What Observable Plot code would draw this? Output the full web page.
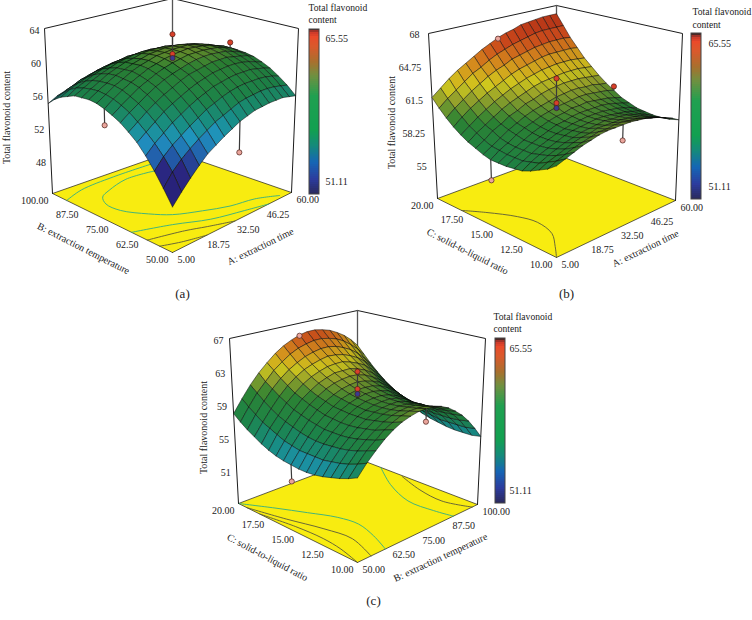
<!DOCTYPE html>
<html><head><meta charset="utf-8">
<style>html,body{margin:0;padding:0;background:#fff}svg{display:block}</style>
<script src="https://cdn.jsdelivr.net/npm/d3@7"></script>
<script src="https://cdn.jsdelivr.net/npm/@observablehq/plot@0.6"></script>
</head><body><div id="chart"></div>
<script>
// Surface heights: rows run along the right floor edge, columns along the left floor edge.
const surfaceA = [
[49.0,50.6,52.1,53.4,54.5,55.3,56.0,56.5,56.9,57.2,57.3,57.2,57.1,56.7,56.3,55.7,54.9],
[50.2,52.0,53.3,54.4,55.3,56.1,56.8,57.3,57.7,57.9,58.0,57.9,57.7,57.4,56.9,56.2,55.5],
[51.3,53.0,54.2,55.2,56.1,56.9,57.5,58.0,58.4,58.6,58.6,58.5,58.3,57.9,57.4,56.7,55.9],
[52.3,53.8,54.9,56.0,56.9,57.6,58.2,58.7,59.0,59.1,59.2,59.1,58.8,58.4,57.8,57.2,56.3],
[53.2,54.5,55.6,56.6,57.5,58.2,58.8,59.2,59.5,59.7,59.6,59.5,59.2,58.8,58.2,57.5,56.6],
[53.8,55.1,56.2,57.2,58.0,58.7,59.3,59.7,60.0,60.1,60.0,59.9,59.6,59.1,58.5,57.8,56.9],
[54.4,55.7,56.8,57.7,58.5,59.2,59.7,60.1,60.3,60.4,60.3,60.1,59.8,59.3,58.7,57.9,57.0],
[54.9,56.1,57.2,58.1,58.9,59.6,60.0,60.4,60.6,60.7,60.6,60.4,60.0,59.5,58.8,58.0,57.1],
[55.4,56.5,57.6,58.5,59.2,59.8,60.3,60.6,60.8,60.8,60.7,60.5,60.1,59.5,58.9,58.0,57.1],
[55.7,56.9,57.9,58.7,59.5,60.0,60.5,60.8,60.9,60.9,60.8,60.5,60.1,59.5,58.8,58.0,57.0],
[56.0,57.1,58.1,58.9,59.6,60.2,60.6,60.8,61.0,60.9,60.8,60.5,60.0,59.4,58.7,57.8,56.8],
[56.1,57.2,58.2,59.0,59.7,60.2,60.6,60.8,60.9,60.9,60.7,60.3,59.9,59.2,58.5,57.6,56.5],
[56.2,57.3,58.2,59.0,59.7,60.2,60.5,60.7,60.8,60.7,60.5,60.1,59.6,59.0,58.2,57.3,56.2],
[56.2,57.3,58.2,59.0,59.6,60.0,60.4,60.6,60.6,60.5,60.3,59.9,59.3,58.7,57.8,56.9,55.8],
[56.2,57.2,58.1,58.8,59.4,59.8,60.1,60.3,60.3,60.2,59.9,59.5,58.9,58.2,57.4,56.4,55.3],
[56.0,57.0,57.9,58.6,59.1,59.6,59.8,60.0,60.0,59.8,59.5,59.0,58.5,57.7,56.9,55.8,54.7],
[55.8,56.8,57.6,58.3,58.8,59.2,59.4,59.5,59.5,59.3,59.0,58.5,57.9,57.1,56.2,55.2,54.0]];
const surfaceB = [
[59.8,59.2,58.8,58.4,58.1,58.0,57.9,57.9,57.9,58.1,58.4,58.7,59.1,59.6,60.2,60.9,61.7],
[60.1,59.6,59.2,58.8,58.6,58.4,58.4,58.4,58.5,58.6,58.9,59.3,59.7,60.3,60.9,61.6,62.4],
[60.4,59.9,59.5,59.2,59.0,58.8,58.8,58.8,58.9,59.1,59.5,59.8,60.3,60.9,61.5,62.2,63.1],
[60.7,60.2,59.8,59.5,59.3,59.2,59.2,59.2,59.4,59.6,59.9,60.3,60.8,61.4,62.1,62.8,63.7],
[60.9,60.4,60.1,59.8,59.6,59.5,59.5,59.6,59.8,60.0,60.4,60.8,61.3,61.9,62.6,63.4,64.2],
[61.1,60.6,60.3,60.0,59.9,59.8,59.8,59.9,60.1,60.4,60.7,61.2,61.7,62.3,63.1,63.8,64.7],
[61.2,60.8,60.4,60.2,60.1,60.0,60.1,60.2,60.4,60.7,61.1,61.5,62.1,62.7,63.5,64.3,65.2],
[61.2,60.8,60.6,60.3,60.2,60.2,60.2,60.4,60.6,60.9,61.3,61.8,62.4,63.1,63.8,64.7,65.6],
[61.2,60.9,60.6,60.4,60.3,60.3,60.4,60.5,60.8,61.1,61.6,62.1,62.7,63.4,64.2,65.0,66.0],
[61.2,60.9,60.6,60.5,60.4,60.4,60.5,60.7,60.9,61.3,61.8,62.3,62.9,63.6,64.4,65.3,66.3],
[61.1,60.8,60.6,60.4,60.4,60.4,60.5,60.7,61.0,61.4,61.9,62.4,63.1,63.8,64.6,65.5,66.5],
[61.0,60.7,60.5,60.4,60.3,60.4,60.5,60.8,61.1,61.5,62.0,62.5,63.2,64.0,64.8,65.7,66.8],
[60.8,60.5,60.4,60.3,60.2,60.3,60.5,60.7,61.1,61.5,62.0,62.6,63.3,64.1,64.9,65.9,66.9],
[60.6,60.3,60.2,60.1,60.1,60.2,60.4,60.6,61.0,61.4,62.0,62.6,63.3,64.1,65.0,66.0,67.0],
[60.3,60.1,59.9,59.9,59.9,60.0,60.2,60.5,60.9,61.4,61.9,62.6,63.3,64.1,65.0,66.0,67.1],
[60.0,59.8,59.6,59.6,59.7,59.8,60.0,60.3,60.8,61.2,61.8,62.5,63.2,64.1,65.0,66.0,67.1],
[59.6,59.4,59.3,59.3,59.4,59.5,59.8,60.1,60.6,61.1,61.7,62.4,63.1,64.0,64.9,66.0,67.1]];
const surfaceC = [
[56.3,55.8,55.4,55.1,54.8,54.6,54.5,54.5,54.6,54.7,54.9,55.2,55.6,56.1,56.6,57.2,57.9],
[57.5,57.0,56.6,56.3,56.1,55.9,55.9,55.9,55.9,56.1,56.3,56.7,57.1,57.5,58.1,58.7,59.4],
[58.5,58.1,57.7,57.4,57.2,57.1,57.0,57.0,57.1,57.3,57.6,57.9,58.3,58.8,59.4,60.1,60.8],
[59.4,58.9,58.6,58.3,58.1,58.0,58.0,58.0,58.2,58.4,58.7,59.0,59.5,60.0,60.6,61.2,62.0],
[60.1,59.7,59.3,59.1,58.9,58.8,58.8,58.9,59.0,59.3,59.6,60.0,60.4,61.0,61.6,62.3,63.0],
[60.6,60.2,59.9,59.7,59.5,59.5,59.5,59.6,59.7,60.0,60.3,60.7,61.2,61.8,62.4,63.1,63.9],
[60.9,60.6,60.3,60.1,60.0,59.9,60.0,60.1,60.3,60.5,60.9,61.3,61.8,62.4,63.0,63.8,64.6],
[61.1,60.8,60.5,60.3,60.2,60.2,60.3,60.4,60.6,60.9,61.3,61.7,62.2,62.8,63.5,64.3,65.1],
[61.1,60.8,60.6,60.4,60.3,60.3,60.4,60.6,60.8,61.1,61.5,62.0,62.5,63.1,63.8,64.6,65.5],
[61.0,60.7,60.5,60.3,60.3,60.3,60.4,60.6,60.8,61.2,61.6,62.0,62.6,63.3,64.0,64.8,65.7],
[60.7,60.4,60.2,60.1,60.0,60.1,60.2,60.4,60.7,61.0,61.5,62.0,62.6,63.2,64.0,64.8,65.7],
[60.2,59.9,59.7,59.7,59.6,59.7,59.8,60.1,60.4,60.7,61.2,61.7,62.3,63.0,63.8,64.6,65.5],
[59.5,59.3,59.1,59.1,59.1,59.1,59.3,59.5,59.9,60.3,60.7,61.3,61.9,62.6,63.4,64.3,65.2],
[58.7,58.5,58.4,58.3,58.3,58.4,58.6,58.9,59.2,59.6,60.1,60.7,61.4,62.1,62.9,63.8,64.7],
[57.7,57.5,57.4,57.4,57.4,57.5,57.7,58.0,58.4,58.8,59.3,59.9,60.6,61.4,62.2,63.1,64.1],
[56.5,56.3,56.3,56.3,56.3,56.5,56.7,57.0,57.4,57.9,58.4,59.0,59.7,60.5,61.3,62.3,63.3],
[55.2,55.0,55.0,55.0,55.1,55.3,55.5,55.8,56.2,56.7,57.3,57.9,58.6,59.4,60.3,61.3,62.3]];

// Design points [u, v, z], u and v in coded units -1..1.
const pointsA = [[0,0,63.3],[0,0,60.9],[0,0,60.4],[1,0,60.2],[-1,0,55],[0,-1,51.8]];
const pointsB = [[0,0,63.6],[0,0,61.2],[0,0,60.7],[1,0,61],[0,1,65.9],[0,-1,59.75],[-1,0,56]];
const pointsC = [[0,0,63],[0,0,60.9],[0,0,60.3],[0,1,65.4],[0,-1,59.6],[-1,0,52.7]];

// Floor contours [u, v], coded units.
const contoursA = [
 [[-1,.72],[-.7,.84],[-.17,.88],[.53,.86]],
 [[.335,.655],[-.11,.71],[-.475,.595],[-.65,.5],[-.745,.325],[-.74,.08],[-.58,-.21],[-.41,-.41],[-.11,-.58],[.2,-.72],[.55,-.8],[.83,-.95]],
 [[-1,-.4],[-.58,-.58],[-.2,-.785],[.22,-.91],[.55,-1]],
 [[-1,-.64],[-.59,-.77],[-.355,-.875],[-.05,-1]],
 [[-1,-.82],[-.785,-.915],[-.5,-1]]];
const contourTealA = [true,true,true,false,false];
const contoursB = [[[-1,.55],[-.825,.305],[-.645,-.015],[-.58,-.28],[-.655,-.585],[-.84,-.82],[-1,-1]]];
const contourTealB = [false];
const contoursC = [
 [[.995,.565],[.69,.11],[.49,-.36],[.505,-.745],[.555,-1]],
 [[.98,.18],[.83,-.25],[.775,-.645],[.9,-1]],
 [[-1,1],[-.77,.6],[-.58,.24],[-.415,-.095],[-.365,-.385],[-.45,-.7],[-.58,-1]],
 [[-1,.84],[-.865,.285],[-.725,-.195],[-.665,-.585],[-.8,-1]],
 [[-1,.6],[-.915,.065],[-.89,-.36],[-.92,-.67],[-1,-1]]];
const contourTealC = [true,false,true,false,false];

const zTicksA = [48,52,56,60,64], zRangeA = [44,64];
const zTicksB = [55,58.25,61.5,64.75,68], zRangeB = [51.75,68];
const zTicksC = [51,55,59,63,67], zRangeC = [47,67];
const timeTicks = ["5.00","18.75","32.50","46.25","60.00"];
const tempTicks = ["50.00","62.50","75.00","87.50","100.00"];
const ratioTicks = ["10.00","12.50","15.00","17.50","20.00"];
const legendLabels = [51.11,65.55];

// Colours
const surfDomain = [49,52,53.3,54.6,55.8,57.5,60,61.5,62.5,64,65.5,67.5];
const surfRange = ["#2a1f7a","#2d2a8a","#2468b8","#22a0d0","#1a9a90","#1f9050","#2f8f38","#a0b030","#e6dc20","#ea9a20","#e0501e","#c03018"];
const surfColor = d3.scaleLinear().domain(surfDomain).range(surfRange).clamp(true);
const barDomain = [49.8,51.2,52.9,54.55,56.2,59.6,61.64,63,64.5,65.6,66.1,66.5];
const barRange = ["#2a2a60","#2c3c9e","#1566b5","#148a7a","#12a050","#20a050","#709040","#a8702e","#d85a2c","#ea4a2a","#c9382a","#222222"];
const barColor = d3.scaleLinear().domain(barDomain).range(barRange);

// Layout of each panel
const panels = [
 {surface:surfaceA, points:pointsA, contours:contoursA, teal:contourTealA, zTicks:zTicksA, zRange:zRangeA, zLabels:["48","52","56","60","64"],
  floor:[[172,252],[291,192],[172,151],[52,193]], top:[[172,70],[298,28],[172,-2],[44,28]],
  rightTicks:timeTicks, leftTicks:tempTicks, rightTitle:"A: extraction time", leftTitle:"B: extraction temperature",
  rightAt:[260,246,-26], leftAt:[83,248,27], zTitle:[6,117], zdx:-5, zdy:2,
  bar:[309,319,29,194,38,181], legendX:325, titleAt:[308,7,19], cap:["(a)",182,293]},
 {surface:surfaceB, points:pointsB, contours:contoursB, teal:contourTealB, zTicks:zTicksB, zRange:zRangeB, zLabels:["55","58.25","61.5","64.75","68"],
  floor:[[556,257],[675,200],[556,154],[437,198]], top:[[556,72],[682,33],[556,5],[428,33]],
  rightTicks:timeTicks, leftTicks:ratioTicks, rightTitle:"A: extraction time", leftTitle:"C: solid-to-liquid ratio",
  rightAt:[645,248,-26], leftAt:[467,251,27], zTitle:[391,122], zdx:-9, zdy:1,
  bar:[691,701,33,199,43,186], legendX:708, titleAt:[692,11,24], cap:["(b)",566,293]},
 {surface:surfaceC, points:pointsC, contours:contoursC, teal:contourTealC, zTicks:zTicksC, zRange:zRangeC, zLabels:["51","55","59","63","67"],
  floor:[[357,562],[477,504],[357,458],[238,503]], top:[[357,380],[485,338],[357,310],[229,338]],
  rightTicks:tempTicks, leftTicks:ratioTicks, rightTitle:"B: extraction temperature", leftTitle:"C: solid-to-liquid ratio",
  rightAt:[440,557,-25], leftAt:[267,557,28], zTitle:[203,427], zdx:-6, zdy:2,
  bar:[495,505,338,503,348,490], legendX:509, titleAt:[493,316,328], cap:["(c)",373,600]}
];

function homography(q){
 const [[x0,y0],[x1,y1],[x2,y2],[x3,y3]] = q;
 const sx=x0-x1+x2-x3, sy=y0-y1+y2-y3, dx1=x1-x2, dx2=x3-x2, dy1=y1-y2, dy2=y3-y2;
 const den=dx1*dy2-dx2*dy1, g=(sx*dy2-dx2*sy)/den, h=(dx1*sy-sx*dy1)/den;
 const a=x1-x0+g*x1, b=x3-x0+h*x3, d=y1-y0+g*y1, e=y3-y0+h*y3;
 return (s,t)=>{const w=g*s+h*t+1; return [(a*s+b*t+x0)/w,(d*s+e*t+y0)/w];};
}

const font = "Liberation Serif";
const marks = [];
const ink = "#1c1c1c";

for (const p of panels) {
 const F = homography(p.floor), T = homography(p.top);
 const [z0,z1] = p.zRange;
 const proj = (u,v,z)=>{
   const s=(u+1)/2, t=(v+1)/2, w=(z-z0)/(z1-z0), a=F(s,t), b=T(s,t);
   return {x:a[0]+(b[0]-a[0])*w, y:a[1]+(b[1]-a[1])*w};
 };
 const seg = (pts,opts)=>marks.push(Plot.line(pts,{x:"x",y:"y",...opts}));
 const C = (u,v,top)=>proj(u,v,top?z1:z0);

 // floor
 marks.push(Plot.line([C(-1,-1),C(1,-1),C(1,1),C(-1,1),C(-1,-1)],{x:"x",y:"y",fill:"#f8ec10",stroke:ink,strokeWidth:.7}));
 // contours
 p.contours.forEach((c,i)=>seg(c.map(([u,v])=>proj(u,v,z0)),{curve:"catmull-rom",stroke:p.teal[i]?"#2fae86":"#5a5a3a",strokeWidth:.9}));
 // box
 seg([C(-1,1),C(-1,1,true),C(1,1,true),C(1,-1,true),C(1,-1)],{stroke:ink,strokeWidth:1});
 seg([C(1,1),C(1,1,true)],{stroke:"#555",strokeWidth:1.3});

 // surface cells, far to near; cells seen edge-on read darker because their mesh lines crowd together
 const cells=[];
 const n=p.surface.length-1, at=i=>-1+2*i/n;
 for(let i=0;i<n;i++) for(let j=0;j<n;j++) cells.push([i,j]);
 cells.sort((a,b)=>(b[0]+b[1])-(a[0]+a[1]));
 const poly=[];
 cells.forEach(([i,j],id)=>{
   const S=p.surface, m=(S[i][j]+S[i+1][j]+S[i+1][j+1]+S[i][j+1])/4;
   const ring=[[i,j],[i+1,j],[i+1,j+1],[i,j+1],[i,j]].map(([a,b])=>proj(at(a),at(b),S[a][b]));
   const area=Math.abs(d3.polygonArea(ring.slice(0,4).map(q=>[q.x,q.y])));
   const mix=Math.min(.8,1.05/Math.sqrt(Math.max(area,1)));
   const col=d3.interpolateRgb(surfColor(m),"#000")(mix);
   for(const q of ring) poly.push({...q,id,col});
 });
 marks.push(Plot.line(poly,{x:"x",y:"y",z:"id",fill:{value:d=>d.col,scale:null},stroke:"#0a0a0a",strokeWidth:.6,strokeOpacity:.85}));

 // design points and stems
 for(const [u,v,z] of p.points){
   const sz=p.surface[Math.round((u+1)*n/2)][Math.round((v+1)*n/2)];
   seg([proj(u,v,sz),proj(u,v,z)],{stroke:"#3a3a3a",strokeWidth:1.2});
 }
 marks.push(Plot.dot(p.points.map(([u,v,z])=>{
   const sz=p.surface[Math.round((u+1)*n/2)][Math.round((v+1)*n/2)];
   return {...proj(u,v,z),c:z>=sz?"#d8402a":(u===0&&v===0?"#3a3a90":"#eaa59c")};
 }),{x:"x",y:"y",r:2.6,fill:{value:d=>d.c,scale:null},stroke:"#4a2018",strokeWidth:.7}));

 // z axis
 const txt={fontFamily:font,fontSize:10,fill:"#222"};
 marks.push(Plot.text(p.zTicks.map((z,i)=>({...proj(-1,1,z),t:p.zLabels[i]})),{x:"x",y:"y",text:"t",textAnchor:"end",dx:p.zdx,dy:p.zdy,...txt}));
 marks.push(Plot.text([{x:p.zTitle[0],y:p.zTitle[1]}],{x:"x",y:"y",text:()=>"Total flavonoid content",rotate:-90,...txt}));
 // floor tick labels, evenly spaced along the front edges
 const [fx,fy]=p.floor[0], [rx,ry]=p.floor[1], [lx,ly]=p.floor[3];
 marks.push(Plot.text(p.rightTicks.map((t,i)=>({x:fx+(rx-fx)*i/4,y:fy+(ry-fy)*i/4,t})),{x:"x",y:"y",text:"t",textAnchor:"start",dx:5,dy:7,...txt}));
 marks.push(Plot.text(p.leftTicks.map((t,i)=>({x:fx+(lx-fx)*i/4,y:fy+(ly-fy)*i/4,t})),{x:"x",y:"y",text:"t",textAnchor:"end",dx:-4,dy:7,...txt}));
 marks.push(Plot.text([{x:p.rightAt[0],y:p.rightAt[1]}],{x:"x",y:"y",text:()=>p.rightTitle,rotate:p.rightAt[2],...txt}));
 marks.push(Plot.text([{x:p.leftAt[0],y:p.leftAt[1]}],{x:"x",y:"y",text:()=>p.leftTitle,rotate:p.leftAt[2],...txt}));

 // colour bar
 const [bx0,bx1,by0,by1,yHi,yLo]=p.bar;
 const zToY=d3.scaleLinear().domain([legendLabels[1],legendLabels[0]]).range([yHi,yLo]);
 const bands=d3.range(49.8,66.5,0.2).map(z=>({z,y1:Math.max(by0,zToY(z+0.2)),y2:Math.min(by1,zToY(z))}));
 marks.push(Plot.rect(bands,{x1:()=>bx0,x2:()=>bx1,y1:"y1",y2:"y2",fill:{value:d=>barColor(d.z),scale:null},shapeRendering:"crispEdges"}));
 marks.push(Plot.rect([{}],{x1:()=>bx0,x2:()=>bx1,y1:()=>by0,y2:()=>by1,fill:"none",stroke:"#444",strokeWidth:1}));
 marks.push(Plot.text(legendLabels.map(v=>({x:p.legendX,y:zToY(v),t:v.toFixed(2)})),{x:"x",y:"y",text:"t",textAnchor:"start",...txt}));
 marks.push(Plot.text([{x:p.titleAt[0],y:p.titleAt[1],t:"Total flavonoid"},{x:p.titleAt[0],y:p.titleAt[2],t:"content"}],{x:"x",y:"y",text:"t",textAnchor:"start",...txt,fontSize:9.6}));
 // caption
 marks.push(Plot.text([{x:p.cap[1],y:p.cap[2],t:p.cap[0]}],{x:"x",y:"y",text:"t",fontFamily:font,fontSize:13,fill:"#222"}));
}

const chart = Plot.plot({
 width:752,height:620,margin:0,
 x:{domain:[0,752],range:[0,752],axis:null},
 y:{domain:[0,620],range:[0,620],axis:null},
 style:{background:"#fff"},
 marks
});
document.getElementById("chart").append(chart);
</script></body></html>
